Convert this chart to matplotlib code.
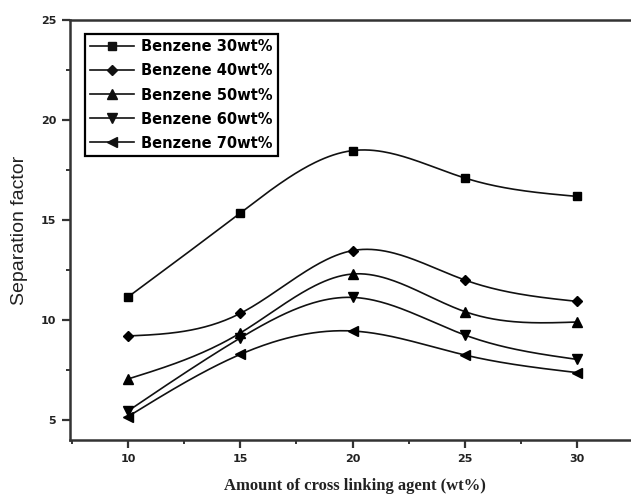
import numpy as np
import matplotlib
matplotlib.use('Agg')
import matplotlib.pyplot as plt
from matplotlib.ticker import MultipleLocator

crosslinker = [10, 15, 20, 25, 30]
benzene_30 = [11.15, 15.35, 18.47, 17.1, 16.18]
benzene_40 = [9.2, 10.33, 13.47, 12.0, 10.93]
benzene_50 = [7.05, 9.35, 12.3, 10.42, 9.9]
benzene_60 = [5.45, 9.1, 11.13, 9.25, 8.03]
benzene_70 = [5.17, 8.28, 9.45, 8.25, 7.37]
labels = ['Benzene 30wt%', 'Benzene 40wt%', 'Benzene 50wt%', 'Benzene 60wt%', 'Benzene 70wt%']


def natural_spline(x, y, n=200):
    # natural cubic spline through the points, for a smooth connecting line
    x = np.asarray(x, float)
    y = np.asarray(y, float)
    k = len(x)
    h = np.diff(x)
    A = np.zeros((k, k))
    b = np.zeros(k)
    A[0, 0] = A[-1, -1] = 1
    for i in range(1, k - 1):
        A[i, i - 1] = h[i - 1]
        A[i, i] = 2 * (h[i - 1] + h[i])
        A[i, i + 1] = h[i]
        b[i] = 3 * ((y[i + 1] - y[i]) / h[i] - (y[i] - y[i - 1]) / h[i - 1])
    c = np.linalg.solve(A, b)
    xs = np.linspace(x[0], x[-1], n)
    ys = np.empty_like(xs)
    for j, xv in enumerate(xs):
        i = min(np.searchsorted(x, xv, side='right') - 1, k - 2)
        dx = xv - x[i]
        bi = (y[i + 1] - y[i]) / h[i] - h[i] * (2 * c[i] + c[i + 1]) / 3
        di = (c[i + 1] - c[i]) / (3 * h[i])
        ys[j] = y[i] + bi * dx + c[i] * dx ** 2 + di * dx ** 3
    return xs, ys


def main():
    fig = plt.figure(figsize=(6.31, 5.0), dpi=100)
    ax = fig.add_axes([0.111, 0.12, 0.889, 0.84])

    series = [benzene_30, benzene_40, benzene_50, benzene_60, benzene_70]
    markers = ['s', 'D', '^', 'v', '<']
    sizes = [6, 5.5, 7.5, 7.5, 7.5]
    for vals, m, ms, lab in zip(series, markers, sizes, labels):
        xs, ys = natural_spline(crosslinker, vals)
        ax.plot(xs, ys, color='#111111', lw=1.2)
        ax.plot(crosslinker, vals, ls='none', marker=m, ms=ms, color='black')
        # proxy for the legend entry
        ax.plot([], [], color='#111111', lw=1.2, marker=m, ms=ms, label=lab)

    ax.xaxis.set_major_locator(MultipleLocator(5))
    ax.xaxis.set_minor_locator(MultipleLocator(2.5))
    ax.yaxis.set_major_locator(MultipleLocator(5))
    ax.yaxis.set_minor_locator(MultipleLocator(2.5))
    ax.set_xticks([10, 15, 20, 25, 30])
    ax.set_xlim(7.42, 32.4)
    ax.set_ylim(4, 25)

    for side in ['left', 'bottom', 'top']:
        ax.spines[side].set_linewidth(1.8)
        ax.spines[side].set_color('#333333')
    ax.spines['right'].set_visible(False)
    ax.tick_params(which='major', direction='out', length=6, width=1.6,
                   color='#333333', top=False, right=False, pad=4)
    ax.tick_params(which='minor', direction='out', length=3, width=1.4,
                   color='#333333', top=False, right=False)
    for t in ax.get_xticklabels() + ax.get_yticklabels():
        t.set_fontsize(8)
        t.set_fontweight('bold')
        t.set_color('#222222')

    ax.set_ylabel('Separation factor', fontsize=14, family='Liberation Sans',
                  color='#222222', labelpad=9)
    fig.text(0.563, 0.012, 'Amount of cross linking agent (wt%)', ha='center',
             va='bottom', fontsize=12, family='Liberation Serif',
             fontweight='bold', color='#222222')

    leg = ax.legend(loc='upper left', bbox_to_anchor=(0.013, 0.985),
                    prop={'size': 10.5, 'weight': 'bold'}, handlelength=3.0,
                    labelspacing=0.62, handletextpad=0.45, borderpad=0.4,
                    fancybox=False, framealpha=1)
    leg.get_frame().set_edgecolor('black')
    leg.get_frame().set_linewidth(1.6)

    fig.savefig('out.png', dpi=100)


if __name__ == '__main__':
    main()
